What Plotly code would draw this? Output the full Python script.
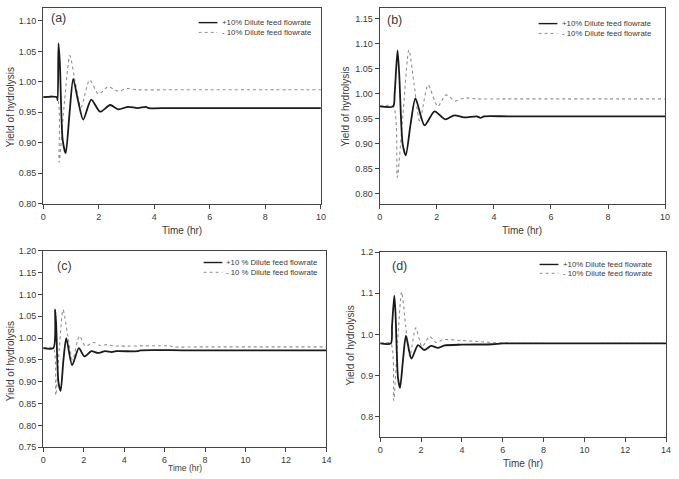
import plotly.graph_objects as go

# ---------------- data ----------------
# Panel (a)
ta_p = [0, 0.49, 0.52, 0.55, 0.60, 0.70, 0.81, 0.95, 1.08, 1.25, 1.44, 1.73, 2.05, 2.41, 2.70, 3.06, 3.40, 3.70, 3.80, 4.5, 6, 8, 10]
ya_p = [0.975, 0.975, 0.970, 1.063, 1.030, 0.905, 0.883, 0.950, 1.005, 0.970, 0.938, 0.971, 0.951, 0.962, 0.955, 0.959, 0.957, 0.959, 0.957, 0.957, 0.957, 0.957, 0.957]
ta_m = [0, 0.49, 0.57, 0.75, 0.96, 1.15, 1.36, 1.67, 1.99, 2.33, 2.68, 3.04, 3.40, 4.5, 6, 8, 10]
ya_m = [0.975, 0.975, 0.868, 0.960, 1.043, 1.000, 0.958, 1.003, 0.980, 0.992, 0.985, 0.989, 0.987, 0.987, 0.987, 0.987, 0.987]

# Panel (b)
tb_p = [0, 0.47, 0.52, 0.62, 0.68, 0.80, 0.91, 1.08, 1.25, 1.57, 1.92, 2.29, 2.61, 2.96, 3.40, 3.53, 3.65, 4.5, 6, 8, 10]
yb_p = [0.975, 0.975, 1.000, 1.087, 1.040, 0.900, 0.877, 0.940, 0.991, 0.937, 0.965, 0.949, 0.957, 0.953, 0.955, 0.952, 0.955, 0.955, 0.955, 0.955, 0.955]
tb_m = [0, 0.47, 0.61, 0.80, 1.02, 1.20, 1.40, 1.69, 2.03, 2.32, 2.64, 2.96, 3.40, 4.5, 6, 8, 10]
yb_m = [0.975, 0.975, 0.833, 0.950, 1.088, 1.020, 0.945, 1.018, 0.975, 0.998, 0.986, 0.992, 0.990, 0.990, 0.990, 0.990, 0.990]

# Panel (c)
tc_p = [0, 0.50, 0.59, 0.64, 0.75, 0.86, 1.00, 1.14, 1.43, 1.76, 2.04, 2.38, 2.70, 3.06, 3.39, 3.60, 4.70, 4.80, 7, 10, 14]
yc_p = [0.977, 0.977, 1.065, 1.030, 0.900, 0.879, 0.950, 1.000, 0.938, 0.977, 0.958, 0.970, 0.966, 0.970, 0.968, 0.970, 0.970, 0.972, 0.972, 0.972, 0.972]
tc_m = [0, 0.50, 0.62, 0.80, 0.98, 1.20, 1.45, 1.79, 2.08, 2.49, 2.82, 3.14, 3.50, 6.30, 6.40, 8, 11, 14]
yc_m = [0.977, 0.977, 0.869, 0.980, 1.065, 1.010, 0.950, 1.005, 0.982, 0.990, 0.983, 0.985, 0.982, 0.982, 0.980, 0.980, 0.980, 0.980]

# Panel (d)
td_p = [0, 0.52, 0.58, 0.69, 0.75, 0.87, 0.97, 1.12, 1.26, 1.53, 1.85, 2.15, 2.50, 2.82, 3.15, 4.00, 5.50, 6.00, 8, 11, 14]
yd_p = [0.978, 0.978, 1.020, 1.094, 1.050, 0.895, 0.870, 0.940, 0.996, 0.941, 0.974, 0.962, 0.972, 0.967, 0.973, 0.975, 0.976, 0.978, 0.978, 0.978, 0.978]
td_m = [0, 0.52, 0.66, 0.85, 1.05, 1.25, 1.45, 1.74, 2.05, 2.42, 2.74, 3.06, 4.00, 5.00, 6.00, 8, 11, 14]
yd_m = [0.978, 0.978, 0.839, 0.980, 1.103, 1.020, 0.946, 1.016, 0.970, 0.995, 0.980, 0.987, 0.985, 0.982, 0.979, 0.978, 0.978, 0.978]

panel_labels = ["(a)", "(b)", "(c)", "(d)"]
legend_plus = ["+10% Dilute feed flowrate", "+10% Dilute feed flowrate",
               "+10 % Dilute feed flowrate", "+10% Dilute feed flowrate"]
legend_minus = ["- 10% Dilute feed flowrate", "- 10% Dilute feed flowrate",
                "- 10 % Dilute feed flowrate", "- 10% Dilute feed flowrate"]
x_title = "Time (hr)"
y_title = "Yield of hydrolysis"

# ---------------- layout geometry ----------------
W, H = 679, 479
FONT = "Arial, Liberation Sans, sans-serif"
TXT = "#3a3a3a"

def px_x(p):
    return p / W

def px_y(p):
    return 1 - p / H

# (left, right, top, bottom) in pixels
boxes = [(40.7, 321.7, 3.3, 203), (381.3, 670, 3.3, 203),
         (40.7, 327.3, 251, 451.7), (381.7, 671, 252.3, 441.5)]
yranges = [[0.80, 1.1208], [0.78, 1.1715], [0.75, 1.20], [0.75, 1.20]]
xranges = [[0, 10], [0, 10], [0, 14], [0, 14]]
ydticks = [0.05, 0.05, 0.05, 0.1]
yfmts = [".2f", ".2f", ".2f", ".1f"]

series = [(ta_p, ya_p, ta_m, ya_m), (tb_p, yb_p, tb_m, yb_m),
          (tc_p, yc_p, tc_m, yc_m), (td_p, yd_p, td_m, yd_m)]

fig = go.Figure()
layout = dict(
    width=W, height=H, margin=dict(l=0, r=0, t=0, b=0),
    paper_bgcolor="white", plot_bgcolor="white", showlegend=False,
    font=dict(family=FONT, color=TXT, size=9),
)
annotations = []
shapes = []

for i, (tp, yp, tm, ym) in enumerate(series):
    k = "" if i == 0 else str(i + 1)
    xa, ya = "x" + k, "y" + k
    fig.add_trace(go.Scatter(x=tm, y=ym, xaxis=xa, yaxis=ya, mode="lines",
                             name=legend_minus[i],
                             line=dict(color="#909090", width=1.1, dash="dot", shape="spline", smoothing=0.7)))
    fig.add_trace(go.Scatter(x=tp, y=yp, xaxis=xa, yaxis=ya, mode="lines",
                             name=legend_plus[i],
                             line=dict(color="#1a1a1a", width=1.8, shape="spline", smoothing=0.7)))
    l, r, t, b = boxes[i]
    axcommon = dict(showline=True, mirror=True, linecolor="#444444", linewidth=1.3,
                    ticks="outside", ticklen=4, tickwidth=1, tickcolor="#444444",
                    showgrid=False, zeroline=False,
                    tickfont=dict(family=FONT, size=9, color=TXT))
    layout["xaxis" + k] = dict(domain=[px_x(l), px_x(r)], range=xranges[i], dtick=2, tick0=0,
                               anchor=ya, **axcommon)
    layout["yaxis" + k] = dict(domain=[px_y(b), px_y(t)], range=yranges[i], dtick=ydticks[i],
                               tick0=0.8, tickformat=yfmts[i], anchor=xa, **axcommon)

    # panel label
    lab_pos = [(47, 13), (387, 15), (53, 267), (392, 267)][i]
    annotations.append(dict(text=panel_labels[i], x=px_x(lab_pos[0]), y=px_y(lab_pos[1]),
                            xref="paper", yref="paper", xanchor="left", yanchor="middle",
                            showarrow=False, font=dict(family=FONT, size=12.5, color=TXT)))
    # x title
    if i == 2:
        annotations.append(dict(text=x_title, x=px_x((l + r) / 2), y=0,
                                xref="paper", yref="paper", xanchor="center", yanchor="bottom",
                                borderpad=0, showarrow=False,
                                font=dict(family=FONT, size=8.5, color=TXT)))
    else:
        xt_y = [230, 230, 0, 468][i]
        annotations.append(dict(text=x_title, x=px_x((l + r) / 2), y=px_y(xt_y),
                                xref="paper", yref="paper", xanchor="center", yanchor="middle",
                                showarrow=False, font=dict(family=FONT, size=10, color=TXT)))
    # y title
    yt = [(7.5, 104), (347, 104), (7, 364), (352, 348)][i]
    annotations.append(dict(text=y_title, x=px_x(yt[0]), y=px_y(yt[1]), textangle=-90,
                            xref="paper", yref="paper", xanchor="center", yanchor="middle",
                            showarrow=False, font=dict(family=FONT, size=10, color=TXT)))
    # key
    key = [(198, 217, 220, 18, 28), (542, 561, 564, 19, 29),
           (203, 222, 224, 263, 273), (543, 562, 565, 265, 274)][i]
    x0, x1, xtxt, r1, r2 = key
    shapes.append(dict(type="line", xref="paper", yref="paper", x0=px_x(x0), x1=px_x(x1),
                       y0=px_y(r1), y1=px_y(r1), line=dict(color="#1a1a1a", width=1.4)))
    shapes.append(dict(type="line", xref="paper", yref="paper", x0=px_x(x0), x1=px_x(x1),
                       y0=px_y(r2), y1=px_y(r2), line=dict(color="#909090", width=1, dash="dot")))
    annotations.append(dict(text=legend_plus[i], x=px_x(xtxt), y=px_y(r1), xref="paper", yref="paper",
                            xanchor="left", yanchor="middle", showarrow=False,
                            font=dict(family=FONT, size=7.8, color=TXT)))
    annotations.append(dict(text=legend_minus[i], x=px_x(xtxt), y=px_y(r2), xref="paper", yref="paper",
                            xanchor="left", yanchor="middle", showarrow=False,
                            font=dict(family=FONT, size=7.8, color=TXT)))

layout["annotations"] = annotations
layout["shapes"] = shapes
fig.update_layout(**layout)
fig.write_html("out.html")
